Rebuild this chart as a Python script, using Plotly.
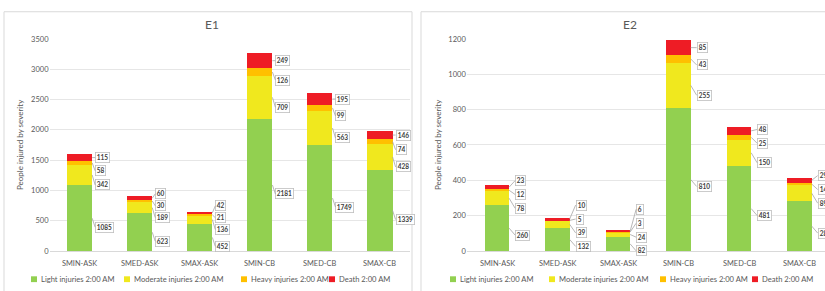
import plotly.graph_objects as go

# ---------------- data ----------------
categories = ["SMIN-ASK", "SMED-ASK", "SMAX-ASK", "SMIN-CB", "SMED-CB", "SMAX-CB"]
series_names = ["Light injuries 2:00 AM", "Moderate injuries 2:00 AM",
                "Heavy injuries 2:00 AM", "Death 2:00 AM"]

e1_light = [1085, 623, 452, 2181, 1749, 1339]
e1_moderate = [342, 189, 136, 709, 563, 428]
e1_heavy = [58, 30, 21, 126, 99, 74]
e1_death = [115, 60, 42, 249, 195, 146]

e2_light = [260, 132, 82, 810, 481, 283]
e2_moderate = [78, 39, 24, 255, 150, 89]
e2_heavy = [12, 5, 3, 43, 25, 14]
e2_death = [23, 10, 6, 85, 48, 29]

y1_ticks = [0, 500, 1000, 1500, 2000, 2500, 3000, 3500]
y2_ticks = [0, 200, 400, 600, 800, 1000, 1200]

# ---------------- style ----------------
W, H = 825, 291
colors = ["#92D050", "#F0E81E", "#FFC000", "#EE1C25"]
FONT = "Lato"
GREY = "#595959"


def px(x):
    return x / W


def py(y):
    return 1 - y / H


PLOT_TOP, PLOT_BOT = 36, 255
panels = [
    dict(title="E1", data=[e1_light, e1_moderate, e1_heavy, e1_death], ticks=y1_ticks,
         xdom=(49.5, 410), xrange=[-0.5, 5.5], width=0.42, title_x=212, ytitle_x=20,
         box=(4, 412), legend_x=[31, 124, 241, 329], gap=12, offs=[9, 10, 8, 0], ldx=3),
    dict(title="E2", data=[e2_light, e2_moderate, e2_heavy, e2_death], ticks=y2_ticks,
         xdom=(466.75, 825), xrange=[-0.5, 5.42], width=0.40, title_x=630, ytitle_x=438,
         box=(421, 840), legend_x=[450, 549, 660, 752], gap=14, offs=[7, 10, 6, 0], ldx=6),
]

fig = go.Figure()
annotations = []
shapes = []

for p_idx, p in enumerate(panels):
    xa = "x" if p_idx == 0 else "x2"
    ya = "y" if p_idx == 0 else "y2"
    for s in range(4):
        fig.add_trace(go.Bar(
            x=categories, y=p["data"][s], name=series_names[s],
            marker=dict(color=colors[s], line=dict(width=0)),
            width=p["width"], xaxis=xa, yaxis=ya, showlegend=False,
        ))
    ymax = p["ticks"][-1]
    scale = (PLOT_BOT - PLOT_TOP) / ymax
    for i in range(len(categories)):
        # category tick label (as text, so the edge label is never dropped)
        annotations.append(dict(x=i, y=py(268), xref=xa, yref="paper",
                                text=categories[i], showarrow=False,
                                xanchor="center", yanchor="middle",
                                font=dict(family=FONT, size=7.4, color=GREY)))
        # data labels with leader lines
        cum = 0
        mids = []
        for s in range(4):
            v = p["data"][s][i]
            mids.append(cum + v / 2)
            cum += v
        label_y = []
        for s in range(4):
            mid_px = PLOT_BOT - mids[s] * scale
            desired = mid_px + p["offs"][s]
            if s > 0:
                desired = min(desired, label_y[-1] - p["gap"])
            label_y.append(desired)
        for s in range(4):
            mid_px = PLOT_BOT - mids[s] * scale
            annotations.append(dict(
                x=i + p["width"] / 2, y=mids[s], xref=xa, yref=ya,
                text="<b>%d</b>" % p["data"][s][i], showarrow=True,
                ax=p["ldx"], ay=label_y[s] - mid_px, axref="pixel", ayref="pixel",
                xanchor="left", yanchor="middle",
                arrowhead=0, arrowwidth=0.8, arrowcolor="#A6A6A6", standoff=0,
                font=dict(family=FONT, size=6.5, color="#404040"),
                bgcolor="white", bordercolor="#BFBFBF", borderwidth=0.8, borderpad=1,
            ))
    # title
    annotations.append(dict(x=px(p["title_x"]), y=py(21), xref="paper", yref="paper",
                            text=p["title"], showarrow=False, xanchor="center",
                            yanchor="middle",
                            font=dict(family=FONT, size=12, color=GREY)))
    # y title
    annotations.append(dict(x=px(p["ytitle_x"]), y=py((PLOT_TOP + PLOT_BOT) / 2),
                            xref="paper", yref="paper", text="People injured by severity",
                            showarrow=False, textangle=-90, xanchor="center",
                            yanchor="middle",
                            font=dict(family=FONT, size=8, color=GREY)))
    # panel border
    shapes.append(dict(type="rect", xref="paper", yref="paper",
                       x0=px(p["box"][0]), x1=px(p["box"][1]), y0=py(300), y1=py(8),
                       line=dict(color="#D9D9D9", width=1), fillcolor="rgba(0,0,0,0)",
                       layer="below"))
    # legend (manual, compact like the original)
    for s in range(4):
        lx = p["legend_x"][s]
        shapes.append(dict(type="rect", xref="paper", yref="paper",
                           x0=px(lx), x1=px(lx + 6), y0=py(287), y1=py(281),
                           fillcolor=colors[s], line=dict(width=0)))
        annotations.append(dict(x=px(lx + 7.5), y=py(284), xref="paper", yref="paper",
                                text=series_names[s], showarrow=False, xanchor="left",
                                yanchor="middle",
                                font=dict(family=FONT, size=7.6, color=GREY)))

yaxis_common = dict(showgrid=True, gridcolor="#E6E6E6", gridwidth=1, zeroline=False,
                    showline=False, tickfont=dict(family=FONT, size=7.5, color=GREY),
                    ticks="", fixedrange=True)
xaxis_common = dict(type="category", categoryorder="array", categoryarray=categories,
                    showline=True, linecolor="#D9D9D9", showticklabels=False,
                    linewidth=1, showgrid=False, zeroline=False, ticks="")

fig.update_layout(
    width=W, height=H, margin=dict(l=0, r=0, t=0, b=0),
    paper_bgcolor="white", plot_bgcolor="white", barmode="stack",
    showlegend=False, annotations=annotations, shapes=shapes,
    xaxis=dict(domain=[px(panels[0]["xdom"][0]), px(panels[0]["xdom"][1])],
               range=panels[0]["xrange"], anchor="y", **xaxis_common),
    xaxis2=dict(domain=[px(panels[1]["xdom"][0]), 1.0],
                range=panels[1]["xrange"], anchor="y2", **xaxis_common),
    yaxis=dict(domain=[py(PLOT_BOT), py(PLOT_TOP)], range=[0, y1_ticks[-1]],
               tickvals=y1_ticks, anchor="x", **yaxis_common),
    yaxis2=dict(domain=[py(PLOT_BOT), py(PLOT_TOP)], range=[0, y2_ticks[-1]],
                tickvals=y2_ticks, anchor="x2", **yaxis_common),
)

fig.write_html(
    "out.html",
    config={"displayModeBar": False},
    post_script="document.body.style.margin='0px';document.body.style.overflow='hidden';",
)
